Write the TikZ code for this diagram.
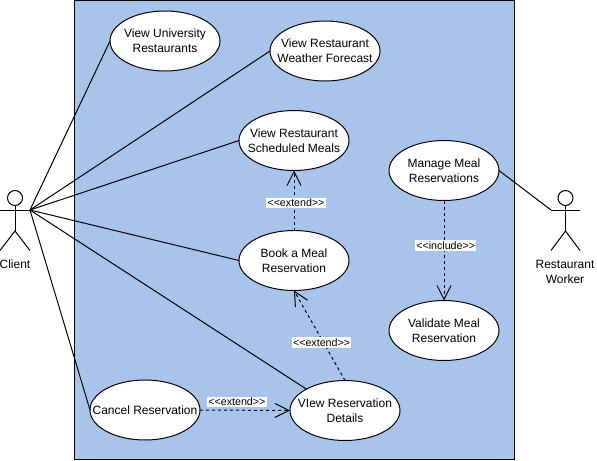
\documentclass[tikz,border=0pt]{standalone}
\usepackage{fontspec}
\setmainfont[Ligatures=NoCommon]{Liberation Sans}
\usepackage{tikz}
\usetikzlibrary{shapes.geometric,arrows.meta}
\definecolor{sysblue}{HTML}{A9C4EB}
\newcommand{\stereo}[1]{<{}<#1>{}>}
\begin{document}
\begin{tikzpicture}[x=.75pt,y=-.75pt,line width=.75pt,
  font=\fontsize{9}{11.25}\selectfont,
  usecase/.style={ellipse,draw,fill=white,minimum width=82.5pt,minimum height=45pt,inner xsep=-12pt,inner ysep=0pt,outer sep=0pt,align=center},
  actorhead/.style={circle,draw,minimum size=11.25pt,inner sep=0pt,outer sep=0pt},
  actorname/.style={align=center,inner sep=0pt},
  dep/.style={dash pattern=on 2.25pt off 2.25pt,-{Straight Barb[length=10.5pt,width=10.5pt,line width=.75pt]}},
  deplabel/.style={fill=white,inner sep=1pt,font=\fontsize{8}{10}\selectfont}]
\useasboundingbox (0,0) rectangle (597,461);
\draw[fill=sysblue] (74.5,0.5) rectangle (514.5,459.5);
\node[usecase] (university) at (165,41) {View University\\Restaurants};
\node[usecase] (weather) at (325,51) {View Restaurant\\Weather Forecast};
\node[usecase] (scheduled) at (294,140.5) {View Restaurant\\Scheduled Meals};
\node[usecase] (book) at (294,260.5) {Book a Meal\\Reservation};
\node[usecase] (cancel) at (145,410) {Cancel Reservation};
\node[usecase] (details) at (345,410.5) {VIew Reservation\\Details};
\node[usecase] (manage) at (444,170.5) {Manage Meal\\Reservations};
\node[usecase] (validate) at (444,330.5) {Validate Meal\\Reservation};
% client
\node[actorhead] (clienthead) at (15,198) {};
\coordinate (clientlhand) at (0,210);
\coordinate (clienthand) at (30,210);
\coordinate (clienthip) at (15,231);
\coordinate (clientlfoot) at (0,250.5);
\coordinate (clientrfoot) at (30,250.5);
\draw (clienthead) -- (clienthip);
\draw (clientlhand) -- (clienthand);
\draw (clientlfoot) -- (clienthip) -- (clientrfoot);
\node[actorname] (clientname) at (15,264) {Client};
% worker
\node[actorhead] (workerhead) at (565.5,198) {};
\coordinate (workerhand) at (551,210);
\coordinate (workerrhand) at (580,210);
\coordinate (workerhip) at (565.5,231);
\coordinate (workerlfoot) at (551,250.5);
\coordinate (workerrfoot) at (580,250.5);
\draw (workerhead) -- (workerhip);
\draw (workerhand) -- (workerrhand);
\draw (workerlfoot) -- (workerhip) -- (workerrfoot);
\node[actorname] (workername) at (565,271.5) {Restaurant\\Worker};
% associations
\draw (clienthand) -- (university.west);
\draw (clienthand) -- (weather.west);
\draw (clienthand) -- (scheduled.west);
\draw (clienthand) -- (book.west);
\draw (clienthand) -- (details.151);
\draw (clienthand) -- (cancel.west);
\draw (manage.east) -- (workerhand);
% dependencies
\draw[dep] (book.north) -- node[deplabel,pos=.46,xshift=1.5pt] (bookext) {\stereo{extend}} (scheduled.south);
\draw[dep] (details.north) -- node[deplabel,pos=.42,xshift=-1.5pt] (detailsext) {\stereo{extend}} (book.south);
\draw[dep] (cancel.east) -- node[deplabel,pos=.41,above=2pt] (cancelext) {\stereo{extend}} (details.west);
\draw[dep] (manage.south) -- node[deplabel,pos=.45,xshift=1.25pt] (manageinc) {\stereo{include}} (validate.north);
\end{tikzpicture}
\end{document}
